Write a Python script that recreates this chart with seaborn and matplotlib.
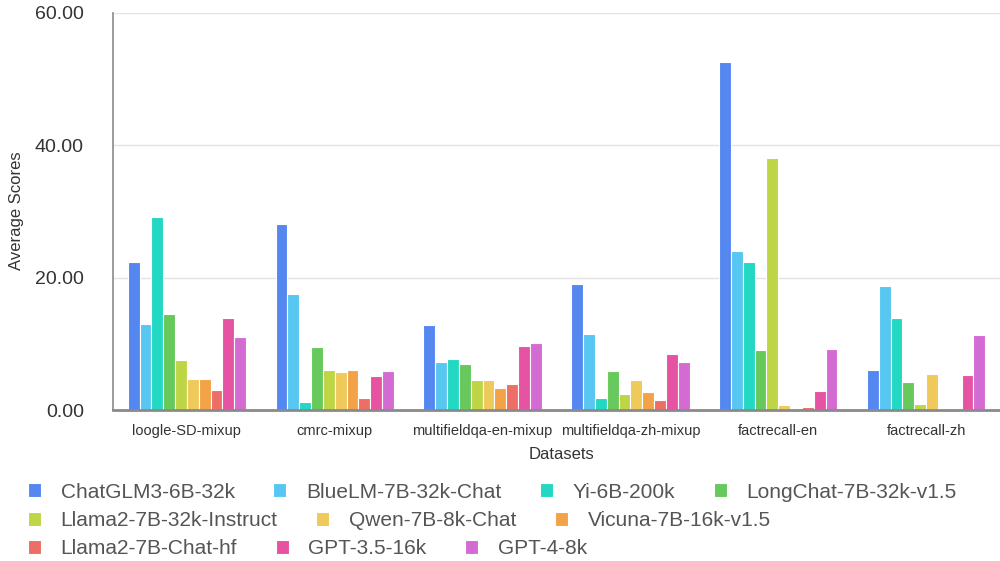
import pandas as pd
import matplotlib.pyplot as plt
import seaborn as sns

datasets = ["loogle-SD-mixup", "cmrc-mixup", "multifieldqa-en-mixup",
            "multifieldqa-zh-mixup", "factrecall-en", "factrecall-zh"]
models = ["ChatGLM3-6B-32k", "BlueLM-7B-32k-Chat", "Yi-6B-200k", "LongChat-7B-32k-v1.5",
          "Llama2-7B-32k-Instruct", "Qwen-7B-8k-Chat", "Vicuna-7B-16k-v1.5",
          "Llama2-7B-Chat-hf", "GPT-3.5-16k", "GPT-4-8k"]
colors = ["#5587F1", "#57C6F0", "#22D8C2", "#67C95B", "#BED546",
          "#EFCA5A", "#F2A347", "#EC6E66", "#E653A3", "#D46BD3"]

# scores per model, in dataset order
scores = {
    "ChatGLM3-6B-32k":        [22.3, 28.1, 12.9, 19.0, 52.6, 6.05],
    "BlueLM-7B-32k-Chat":     [13.0, 17.5, 7.25, 11.5, 24.0, 18.8],
    "Yi-6B-200k":             [29.1, 1.2, 7.7, 1.8, 22.3, 13.95],
    "LongChat-7B-32k-v1.5":   [14.5, 9.6, 6.9, 5.85, 9.05, 4.25],
    "Llama2-7B-32k-Instruct": [7.55, 6.05, 4.6, 2.5, 38.1, 0.85],
    "Qwen-7B-8k-Chat":        [4.7, 5.75, 4.5, 4.55, 0.75, 5.45],
    "Vicuna-7B-16k-v1.5":     [4.65, 6.05, 3.4, 2.8, 0.1, 0.0],
    "Llama2-7B-Chat-hf":      [3.0, 1.9, 3.9, 1.45, 0.4, 0.0],
    "GPT-3.5-16k":            [13.95, 5.1, 9.7, 8.45, 2.85, 5.25],
    "GPT-4-8k":               [11.1, 5.9, 10.1, 7.25, 9.2, 11.35],
}

rows = []
for m in models:
    for d, v in zip(datasets, scores[m]):
        rows.append({"Datasets": d, "Model": m, "Average Scores": v})
df = pd.DataFrame(rows)

sns.set_style("white")
plt.rcParams['font.family'] = ['Liberation Sans', 'DejaVu Sans']

fig = plt.figure(figsize=(10, 5.61), dpi=100)
ax = fig.add_axes([0.113, 0.269, 0.887, 0.708])

sns.barplot(data=df, x="Datasets", y="Average Scores", hue="Model",
            order=datasets, hue_order=models, palette=colors, saturation=1,
            width=0.8, edgecolor="white", linewidth=0.8, ax=ax)

ax.set_ylim(0, 60)
ax.set_xlim(-0.5, 5.5)
ax.set_yticks([0, 20, 40, 60])
ax.set_yticklabels([f"{v:.2f}" for v in [0, 20, 40, 60]], fontsize=14, color="#333333")
ax.tick_params(axis="y", length=7, width=1, color="#888888", pad=14)
ax.tick_params(axis="x", length=0, labelsize=10.5, labelcolor="#333333", pad=10)
ax.yaxis.grid(True, color="#e3e3e3", linewidth=1)
ax.set_axisbelow(True)
for s in ["top", "right"]:
    ax.spines[s].set_visible(False)
ax.spines["left"].set_color("#8a8a8a")
ax.spines["left"].set_linewidth(1.2)
ax.spines["bottom"].set_color("#8a8a8a")
ax.spines["bottom"].set_linewidth(2)
ax.set_xlabel("Datasets", fontsize=12, color="#333333")
ax.set_ylabel("Average Scores", fontsize=12, color="#333333")
ax.xaxis.set_label_coords((561 - 113) / 887, -(447 - 410) / 397)
ax.yaxis.set_label_coords(-(113 - 24) / 887, (410 - 211) / 397)

handles, labels = ax.get_legend_handles_labels()
ax.get_legend().remove()

legend_rows = [(0, 4), (4, 7), (7, 10)]
row_y = [1 - 492 / 561, 1 - 521 / 561, 1 - 549 / 561]
for (a, b), y in zip(legend_rows, row_y):
    fig.legend(handles[a:b], labels[a:b], loc="center left", bbox_to_anchor=(0.028, y),
               ncol=b - a, frameon=False, fontsize=15, handlelength=0.62,
               handleheight=0.62, handletextpad=0.95, columnspacing=1.85,
               labelcolor="#555555", borderaxespad=0, borderpad=0)

fig.savefig("out.png", dpi=100)
